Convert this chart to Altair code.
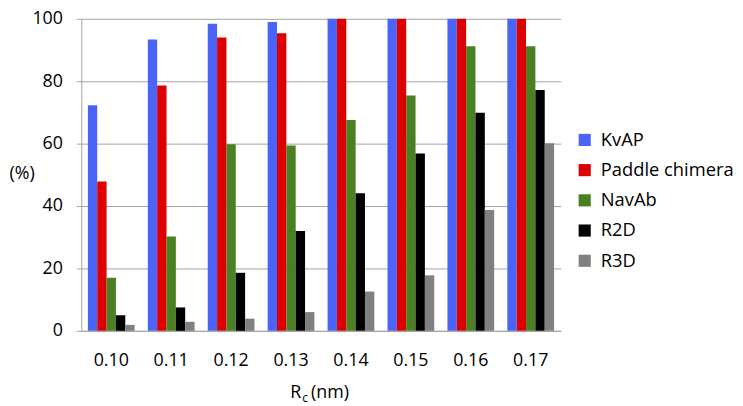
import altair as alt
import pandas as pd

categories = ["0.10", "0.11", "0.12", "0.13", "0.14", "0.15", "0.16", "0.17"]
series = ["KvAP", "Paddle chimera", "NavAb", "R2D", "R3D"]
kvap = [72.3, 93.4, 98.4, 99.0, 100, 100, 100, 100]
paddle = [47.9, 78.6, 94.0, 95.4, 100, 100, 100, 100]
navab = [17.0, 30.2, 59.8, 59.4, 67.6, 75.4, 91.2, 91.2]
r2d = [5.0, 7.5, 18.6, 32.0, 44.1, 56.8, 69.9, 77.2]
r3d = [1.9, 2.9, 3.9, 6.0, 12.6, 17.8, 38.7, 60.1]
colors = ["#4a64fa", "#dd0000", "#4a7f22", "#000000", "#808080"]

values = [kvap, paddle, navab, r2d, r3d]
rows = []
for s, vals in zip(series, values):
    for c, v in zip(categories, vals):
        rows.append({"Rc": c, "series": s, "value": v})
df = pd.DataFrame(rows)

FONT = "Open Sans"
GRID = "#a3a3a3"
TOP = 17  # page y of plot top

bars = alt.Chart(df).mark_bar().encode(
    x=alt.X("Rc:N", sort=categories,
            scale=alt.Scale(paddingInner=0.22, paddingOuter=0.11),
            axis=alt.Axis(labelAngle=0, ticks=False, tickSize=0, labelPadding=30,
                          labelBaseline="middle", title=None, domainColor=GRID,
                          labelFontSize=18, labelFont=FONT, labelColor="#000000",
                          grid=False)),
    xOffset=alt.XOffset("series:N", sort=series,
                        scale=alt.Scale(paddingInner=0, paddingOuter=0)),
    y=alt.Y("value:Q", scale=alt.Scale(domain=[0, 100], nice=False),
            axis=alt.Axis(values=[0, 20, 40, 60, 80, 100], grid=True,
                          gridColor=GRID, domainColor=GRID, tickColor=GRID,
                          tickSize=5, labelPadding=14, labelFontSize=18,
                          labelFont=FONT, labelColor="#000000",
                          title="(%)", titleAngle=0, titleX=-73, titleY=173 - TOP,
                          titleAlign="left", titleBaseline="middle",
                          titleFontWeight="normal", titleFontSize=18,
                          titleFont=FONT, titleColor="#000000")),
    color=alt.Color("series:N", sort=series,
                    scale=alt.Scale(domain=series, range=colors),
                    legend=alt.Legend(orient="none", legendX=499, legendY=130 - TOP,
                                      symbolType="square", symbolSize=150,
                                      symbolStrokeWidth=0, labelFontSize=18.5,
                                      labelFont=FONT, labelColor="#000000",
                                      labelLimit=200,
                                      rowPadding=11.5, labelOffset=7, title=None)),
)

t_r = alt.Chart(pd.DataFrame({"t": ["R"]})).mark_text(
    align="left", baseline="middle", fontSize=18, font=FONT, color="#000000"
).encode(x=alt.value(211), y=alt.value(395 - TOP), text="t:N")
t_c = alt.Chart(pd.DataFrame({"t": ["c"]})).mark_text(
    align="left", baseline="middle", fontSize=12, font=FONT, color="#000000"
).encode(x=alt.value(223), y=alt.value(400 - TOP), text="t:N")
t_nm = alt.Chart(pd.DataFrame({"t": ["(nm)"]})).mark_text(
    align="left", baseline="middle", fontSize=18, font=FONT, color="#000000"
).encode(x=alt.value(232), y=alt.value(395 - TOP), text="t:N")

chart = alt.layer(bars, t_r, t_c, t_nm).properties(
    width=484, height=332 - TOP,
    autosize=alt.AutoSizeParams(type="none"),
    padding={"left": 74, "top": TOP - 8, "right": 176, "bottom": 80},
).configure_view(strokeWidth=0)

chart.save("out.html", embed_options={"renderer": "svg", "actions": False})
